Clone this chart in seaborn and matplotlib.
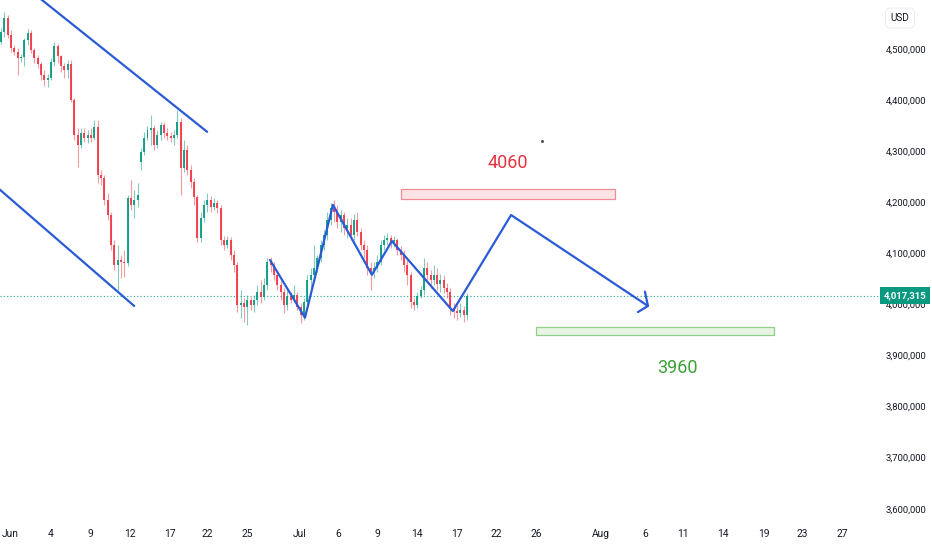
import numpy as np
import pandas as pd
import seaborn as sns
import matplotlib.pyplot as plt
from matplotlib.ticker import FuncFormatter, FixedLocator
from matplotlib.patches import Rectangle

# velas (miles de USD), de izquierda a derecha
opens = [4514, 4533, 4561, 4528, 4502, 4494, 4483, 4484, 4518, 4531,
         4498, 4483, 4471, 4449, 4439, 4443, 4475, 4506, 4486, 4467,
         4459, 4471, 4400, 4332, 4312, 4336, 4326, 4332, 4326, 4347,
         4254, 4248, 4205, 4175, 4117, 4077, 4087, 4083, 4082, 4209,
         4195, 4205, 4279, 4299, 4326, 4342, 4346, 4312, 4332, 4351,
         4336, 4330, 4326, 4332, 4357, 4267, 4302, 4263, 4240, 4210,
         4130, 4169, 4195, 4205, 4191, 4199, 4189, 4126, 4117, 4126,
         4097, 4077, 3999, 4003, 3995, 4009, 3999, 4009, 4025, 4015,
         4038, 4083, 4077, 4058, 4038, 4025, 3999, 4017, 4009, 4019,
         3995, 3980, 4005, 4048, 4058, 4072, 4091, 4117, 4136, 4165,
         4189, 4181, 4161, 4175, 4150, 4156, 4136, 4165, 4142, 4117,
         4107, 4072, 4064, 4072, 4083, 4117, 4126, 4130, 4122, 4126,
         4107, 4097, 4077, 4058, 4005, 3999, 4017, 4028, 4072, 4058,
         4048, 4058, 4040, 4048, 4032, 4025, 3993, 3987, 3983, 3989,
         3980]
highs = [4541, 4572, 4567, 4537, 4508, 4502, 4490, 4522, 4539, 4537,
         4502, 4488, 4475, 4459, 4451, 4483, 4514, 4510, 4488, 4473,
         4479, 4479, 4404, 4346, 4346, 4346, 4342, 4346, 4361, 4361,
         4263, 4254, 4218, 4181, 4126, 4117, 4097, 4107, 4214, 4244,
         4224, 4238, 4306, 4338, 4349, 4371, 4351, 4342, 4357, 4357,
         4346, 4338, 4342, 4381, 4365, 4322, 4312, 4273, 4248, 4214,
         4181, 4205, 4218, 4212, 4209, 4205, 4195, 4134, 4134, 4132,
         4107, 4083, 4028, 4013, 4019, 4015, 4019, 4038, 4048, 4052,
         4091, 4093, 4083, 4064, 4048, 4032, 4028, 4025, 4038, 4025,
         4003, 4013, 4058, 4072, 4117, 4097, 4126, 4146, 4181, 4199,
         4205, 4195, 4185, 4181, 4169, 4169, 4177, 4181, 4150, 4126,
         4117, 4083, 4083, 4097, 4126, 4136, 4140, 4136, 4134, 4130,
         4115, 4107, 4087, 4064, 4013, 4025, 4036, 4091, 4083, 4068,
         4077, 4072, 4060, 4058, 4042, 4032, 4003, 3999, 4003, 3997,
         4023]
lows = [4510, 4524, 4522, 4494, 4488, 4449, 4475, 4467, 4508, 4492,
        4473, 4463, 4439, 4428, 4426, 4439, 4467, 4473, 4455, 4443,
        4443, 4396, 4322, 4269, 4306, 4318, 4316, 4318, 4322, 4238,
        4234, 4195, 4165, 4107, 4068, 4028, 4052, 4054, 4075, 4185,
        4169, 4191, 4263, 4293, 4322, 4312, 4302, 4306, 4322, 4326,
        4322, 4318, 4312, 4326, 4214, 4259, 4254, 4228, 4195, 4122,
        4122, 4161, 4181, 4181, 4185, 4179, 4117, 4107, 4111, 4087,
        4064, 3985, 3974, 3966, 3960, 3989, 3985, 3999, 4003, 4009,
        4028, 4064, 4048, 4028, 4009, 3983, 3989, 4003, 4005, 3989,
        3964, 3970, 3999, 4028, 4048, 4064, 4083, 4107, 4126, 4156,
        4161, 4150, 4142, 4136, 4130, 4126, 4126, 4134, 4107, 4091,
        4058, 4028, 4052, 4064, 4077, 4107, 4117, 4111, 4113, 4097,
        4087, 4064, 4038, 3993, 3989, 3993, 4013, 4019, 4044, 4032,
        4038, 4028, 4025, 4023, 4013, 3980, 3974, 3970, 3976, 3966,
        3970]
closes = [4533, 4561, 4528, 4502, 4494, 4483, 4484, 4518, 4531, 4498,
          4483, 4471, 4449, 4439, 4443, 4475, 4506, 4486, 4467, 4459,
          4471, 4400, 4332, 4312, 4336, 4326, 4332, 4326, 4347, 4254,
          4248, 4205, 4175, 4117, 4077, 4087, 4083, 4082, 4209, 4195,
          4205, 4214, 4299, 4326, 4342, 4346, 4312, 4332, 4351, 4336,
          4330, 4326, 4332, 4357, 4267, 4302, 4263, 4240, 4210, 4130,
          4169, 4195, 4205, 4191, 4199, 4189, 4126, 4117, 4126, 4097,
          4077, 3999, 4003, 3995, 4009, 3999, 4009, 4025, 4015, 4038,
          4083, 4077, 4058, 4038, 4025, 3999, 4017, 4009, 4019, 3995,
          3980, 4005, 4048, 4058, 4072, 4091, 4117, 4136, 4165, 4189,
          4181, 4161, 4175, 4150, 4156, 4136, 4165, 4142, 4117, 4107,
          4072, 4064, 4072, 4083, 4117, 4126, 4130, 4122, 4126, 4107,
          4097, 4077, 4058, 4005, 3999, 4017, 4028, 4072, 4058, 4048,
          4058, 4040, 4048, 4032, 4025, 3993, 3987, 3983, 3989, 3980,
          4017.315]

# eje de tiempo (posicion en numero de vela)
tick_labels = ['Jun', '4', '9', '12', '17', '22', '25', 'Jul', '6', '9', '14',
               '17', '22', '26', 'Aug', '6', '11', '14', '19', '23', '27']
tick_pos = [2.7, 15.0, 26.7, 38.7, 50.8, 61.9, 73.9, 89.8, 101.2, 112.9, 124.9,
            136.9, 148.6, 160.7, 180.2, 193.4, 204.8, 216.8, 229.1, 240.5, 252.6]

# dibujos del analisis
zigzag_x = [80.8, 91.3, 99.7, 111.4, 117.4, 135.7, 153.2, 194.3]
zigzag_y = [4087, 3974, 4195, 4058, 4124, 3987, 4175, 3997]
arrow_x = [193.4, 194.3, 191.3]
arrow_y = [4025, 3997, 3985]
upper_x = [10.0, 61.9]
upper_y = [4608, 4338]
lower_x = [-2.0, 40.0]
lower_y = [4234, 3997]
sell_zone = (120.1, 184.4, 4207, 4226)
buy_zone = (160.7, 232.1, 3940, 3956)
last_price = closes[-1]

df = pd.DataFrame({'open': opens, 'high': highs, 'low': lows, 'close': closes})
df['bar'] = np.arange(len(df))
df['up'] = df['close'] >= df['open']

sns.set_style('white')
plt.rcParams['font.family'] = ['Roboto', 'DejaVu Sans']

fig = plt.figure(figsize=(9.32, 5.5), dpi=100)
ax = fig.add_axes([0, 0.0509, 879 / 932, 1 - 0.0509])

GREEN = '#089981'
RED = '#f23645'
BLUE = '#2a5bd7'

colors = np.where(df['up'], GREEN, RED)
ax.vlines(df['bar'], df['low'] * 1000, df['high'] * 1000, colors=colors,
          linewidth=0.8, alpha=0.5, zorder=2)
body_lo = np.minimum(df['open'], df['close']) * 1000
body_h = np.maximum(np.abs(df['close'] - df['open']) * 1000, 1500)
ax.bar(df['bar'], body_h, bottom=body_lo, width=0.6, color=colors,
       alpha=0.9, linewidth=0, zorder=3)

# linea del ultimo precio
ax.axhline(last_price * 1000, color='#22ab94', linestyle=(0, (1, 2)),
           linewidth=0.8, zorder=1)

# canal bajista y camino previsto
sns.lineplot(x=upper_x, y=np.array(upper_y) * 1000, sort=False, estimator=None,
             color=BLUE, linewidth=1.6, ax=ax, zorder=4)
sns.lineplot(x=lower_x, y=np.array(lower_y) * 1000, sort=False, estimator=None,
             color=BLUE, linewidth=1.6, ax=ax, zorder=4)
sns.lineplot(x=zigzag_x, y=np.array(zigzag_y) * 1000, sort=False, estimator=None,
             color=BLUE, linewidth=1.6, ax=ax, zorder=4)
sns.lineplot(x=arrow_x, y=np.array(arrow_y) * 1000, sort=False, estimator=None,
             color=BLUE, linewidth=1.6, ax=ax, zorder=4)

# zonas
x0, x1, y0, y1 = sell_zone
ax.add_patch(Rectangle((x0, y0 * 1000), x1 - x0, (y1 - y0) * 1000,
                       facecolor='#fde3e6', edgecolor='#f08c96', linewidth=0.9, zorder=2))
x0, x1, y0, y1 = buy_zone
ax.add_patch(Rectangle((x0, y0 * 1000), x1 - x0, (y1 - y0) * 1000,
                       facecolor='#e8f5e4', edgecolor='#8fcf87', linewidth=0.9, zorder=2))
ax.text(152.3, 4277000, '4060', color='#e5323e', fontsize=13, ha='center', va='center')
ax.text(203.0, 3876000, '3960', color='#3c9f35', fontsize=13, ha='center', va='center')
ax.plot([162.5], [4320000], marker='o', markersize=1.2, color='#555555')

ax.set_xlim(-0.3, 263.7)
ax.set_ylim(3574000, 4596000)

ax.yaxis.tick_right()
ax.yaxis.set_major_locator(FixedLocator(np.arange(3600000, 4500001, 100000)))
ax.yaxis.set_major_formatter(FuncFormatter(lambda v, p: f'{v:,.0f}'))
ax.xaxis.set_major_locator(FixedLocator(tick_pos))
ax.set_xticklabels(tick_labels)
ax.tick_params(axis='y', length=0, pad=5, labelsize=6.8, labelcolor='#131722')
ax.tick_params(axis='x', length=0, pad=5, labelsize=7.4, labelcolor='#131722')
for lab in ax.get_yticklabels():
    lab.set_horizontalalignment('left')
for s in ax.spines.values():
    s.set_visible(False)

# etiqueta del ultimo precio
ax.annotate(f'{last_price * 1000:,.0f}', xy=(1.0, last_price * 1000),
            xycoords=('axes fraction', 'data'), xytext=(3.5, 0), textcoords='offset points',
            ha='left', va='center', color='white', fontsize=6.8, fontweight='bold',
            annotation_clip=False, zorder=10,
            bbox=dict(boxstyle='square,pad=0.4', facecolor=GREEN, edgecolor='none'))

fig.text(900 / 932, 1 - 18 / 550, 'USD', ha='center', va='center', fontsize=7.2,
         color='#131722',
         bbox=dict(boxstyle='round,pad=0.5', facecolor='white', edgecolor='#e6e8ee', linewidth=0.6))

fig.savefig('out.png', dpi=100)
